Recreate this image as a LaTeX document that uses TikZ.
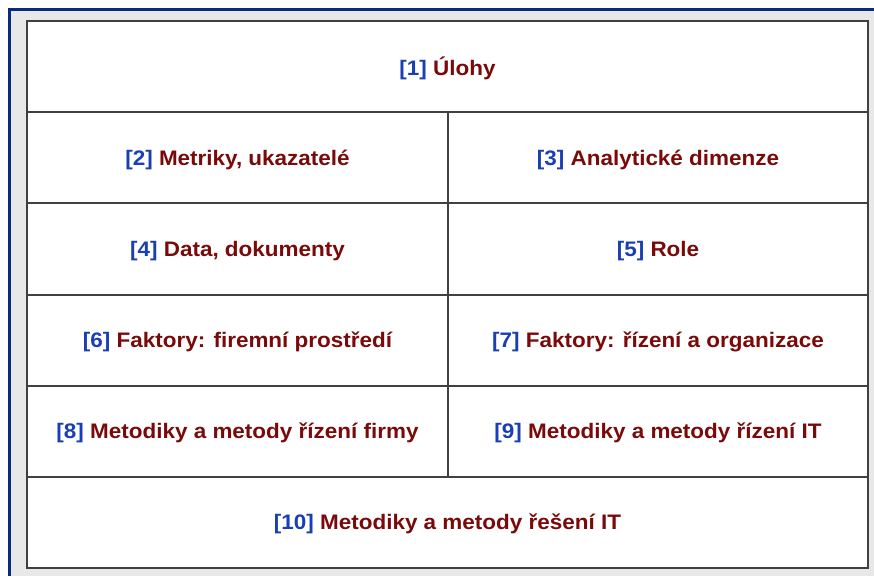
\documentclass[tikz,border=0pt]{standalone}
\usepackage{fontspec}
\usepackage{graphicx}
\setmainfont{Liberation Sans}
\definecolor{bgray}{HTML}{E8E8E8}
\definecolor{fblue}{HTML}{0A2A7A}
\definecolor{numblue}{HTML}{1A3FB5}
\definecolor{txtred}{HTML}{7A0A0A}
\definecolor{lgray}{HTML}{404040}
\tikzset{
  cell/.style={font=\fontsize{21}{24}\selectfont\bfseries, text=txtred, inner sep=0pt, yshift=-1.5pt},
  grid/.style={draw=lgray, line width=1.8pt},
}
\newcommand{\nb}[1]{\textcolor{numblue}{[#1]}}
\newcommand{\cx}[1]{\scalebox{1.07}[1]{#1}}
\begin{document}
\begin{tikzpicture}[x=1pt,y=-1pt]
\useasboundingbox (0,0) rectangle (874,576);
\fill[bgray] (0,0) rectangle (874,576);
\fill[white] (0,0) rectangle (874,8);
\fill[white] (0,0) rectangle (8,576);
\fill[fblue] (8,8) rectangle (874,11);
\fill[fblue] (8,8) rectangle (11,576);
\fill[white] (27,21) rectangle (868,568);
\coordinate (tl) at (27,21);
\coordinate (br) at (868,568);
\draw[grid] (tl) rectangle (br);
\foreach \y in {112,203,295,386,477} \draw[grid, line width=1.5pt] (27,\y) -- (868,\y);
\draw[grid, line width=1.5pt] (448,112) -- (448,477);
\node[cell] (n1) at (447.5,67) {\cx{\nb{1} Úlohy}};
\node[cell] (n2) at (237.5,158) {\cx{\nb{2} Metriky, ukazatelé}};
\node[cell] (n3) at (658,158) {\cx{\nb{3} Analytické dimenze}};
\node[cell] (n4) at (237.5,249.5) {\cx{\nb{4} Data, dokumenty}};
\node[cell] (n5) at (658,249.5) {\cx{\nb{5} Role}};
\node[cell] (n6) at (237.5,340.5) {\cx{\nb{6} Faktory: firemní prostředí}};
\node[cell] (n7) at (658,340.5) {\cx{\nb{7} Faktory: řízení a organizace}};
\node[cell] (n8) at (237.5,431.5) {\cx{\nb{8} Metodiky a metody řízení firmy}};
\node[cell] (n9) at (658,431.5) {\cx{\nb{9} Metodiky a metody řízení IT}};
\node[cell] (n10) at (447.5,522.5) {\cx{\nb{10} Metodiky a metody řešení IT}};
\end{tikzpicture}
\end{document}
